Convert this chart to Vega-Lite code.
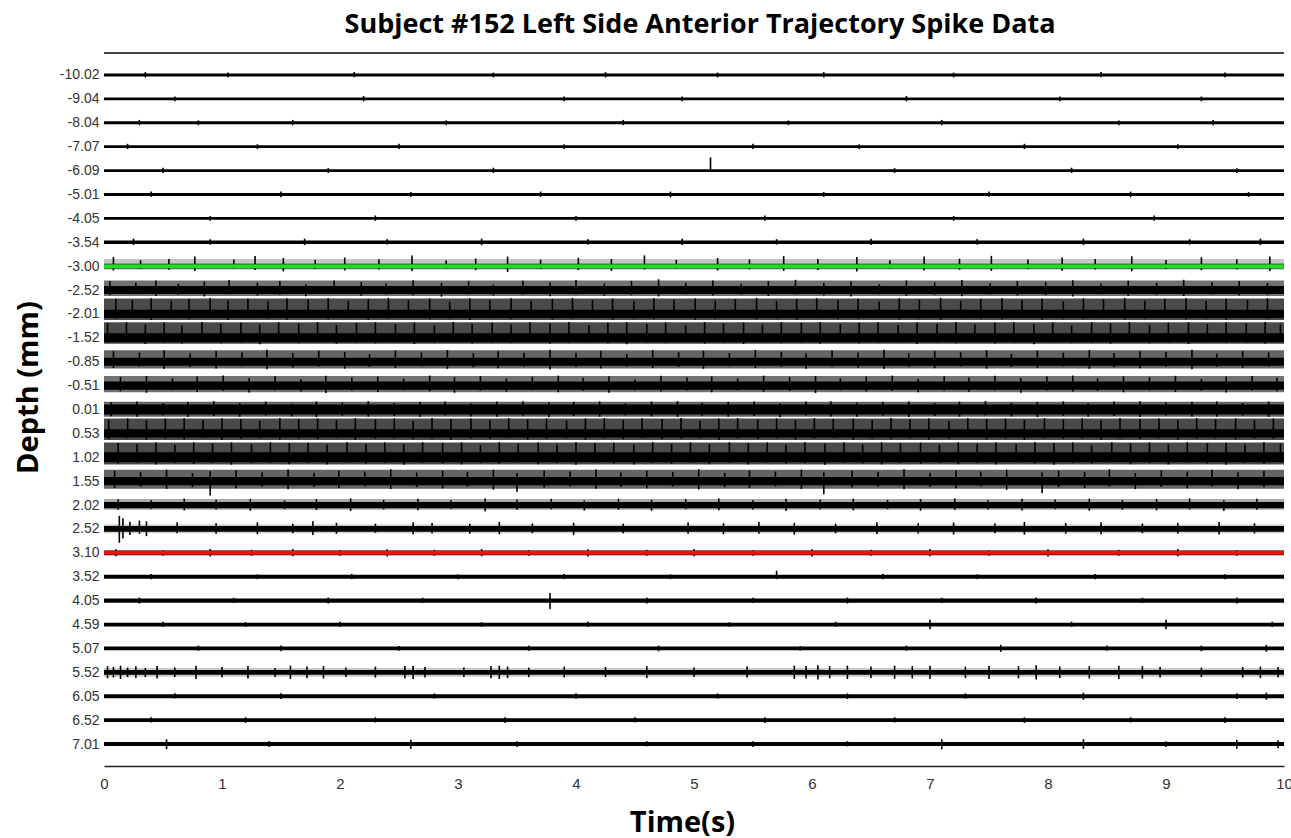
{
"$schema": "https://vega.github.io/schema/vega-lite/v6.json",
"width": 1180, "height": 713,
"autosize": {"type": "none"},
"padding": {"left": 104, "top": 53, "right": 7, "bottom": 72},
"background": "white",
"config": {"view": {"stroke": null}, "font": "Liberation Sans"},
"title": {"text": "Subject #152 Left Side Anterior Trajectory Spike Data", "font": "Open Sans", "fontSize": 27, "fontWeight": "bold", "color": "#000", "anchor": "middle", "frame": "group", "baseline": "alphabetic", "offset": 20, "dx": 6, "dy": 28},
"datasets": {
"tracks": [
{"k":0,"d":"-10.02","t0":0,"t1":10,"lo":-0.06,"hi":0.06},{"k":1,"d":"-9.04","t0":0,"t1":10,"lo":0.94,"hi":1.06},{"k":2,"d":"-8.04","t0":0,"t1":10,"lo":1.94,"hi":2.06},{"k":3,"d":"-7.07","t0":0,"t1":10,"lo":2.94,"hi":3.06},{"k":4,"d":"-6.09","t0":0,"t1":10,"lo":3.94,"hi":4.06},{"k":5,"d":"-5.01","t0":0,"t1":10,"lo":4.94,"hi":5.06},{"k":6,"d":"-4.05","t0":0,"t1":10,"lo":5.94,"hi":6.06},{"k":7,"d":"-3.54","t0":0,"t1":10,"lo":6.93,"hi":7.07},{"k":8,"d":"-3.00","t0":0,"t1":10,"lo":7.9,"hi":8.1},{"k":9,"d":"-2.52","t0":0,"t1":10,"lo":8.83,"hi":9.17},{"k":10,"d":"-2.01","t0":0,"t1":10,"lo":9.83,"hi":10.17},{"k":11,"d":"-1.52","t0":0,"t1":10,"lo":10.81,"hi":11.19},{"k":12,"d":"-0.85","t0":0,"t1":10,"lo":11.83,"hi":12.17},{"k":13,"d":"-0.51","t0":0,"t1":10,"lo":12.83,"hi":13.17},{"k":14,"d":"0.01","t0":0,"t1":10,"lo":13.79,"hi":14.21},{"k":15,"d":"0.53","t0":0,"t1":10,"lo":14.83,"hi":15.17},{"k":16,"d":"1.02","t0":0,"t1":10,"lo":15.79,"hi":16.21},{"k":17,"d":"1.55","t0":0,"t1":10,"lo":16.83,"hi":17.17},{"k":18,"d":"2.02","t0":0,"t1":10,"lo":17.87,"hi":18.13},{"k":19,"d":"2.52","t0":0,"t1":10,"lo":18.88,"hi":19.12},{"k":20,"d":"3.10","t0":0,"t1":10,"lo":19.9,"hi":20.1},{"k":21,"d":"3.52","t0":0,"t1":10,"lo":20.92,"hi":21.08},{"k":22,"d":"4.05","t0":0,"t1":10,"lo":21.91,"hi":22.09},{"k":23,"d":"4.59","t0":0,"t1":10,"lo":22.92,"hi":23.08},{"k":24,"d":"5.07","t0":0,"t1":10,"lo":23.92,"hi":24.08},{"k":25,"d":"5.52","t0":0,"t1":10,"lo":24.9,"hi":25.1},{"k":26,"d":"6.05","t0":0,"t1":10,"lo":25.92,"hi":26.08},{"k":27,"d":"6.52","t0":0,"t1":10,"lo":26.92,"hi":27.08},{"k":28,"d":"7.01","t0":0,"t1":10,"lo":27.92,"hi":28.08}
],
"env": [
{"k":8,"t0":0,"t1":10,"lo":7.7,"hi":8.15,"lvl":15},{"k":9,"t0":0,"t1":10,"lo":8.6,"hi":9.25,"lvl":38},{"k":10,"t0":0,"t1":10,"lo":9.35,"hi":10.25,"lvl":50},{"k":11,"t0":0,"t1":10,"lo":10.35,"hi":11.25,"lvl":50},{"k":12,"t0":0,"t1":10,"lo":11.52,"hi":12.28,"lvl":42},{"k":13,"t0":0,"t1":10,"lo":12.6,"hi":13.28,"lvl":38},{"k":14,"t0":0,"t1":10,"lo":13.68,"hi":14.3,"lvl":42},{"k":15,"t0":0,"t1":10,"lo":14.38,"hi":15.28,"lvl":50},{"k":16,"t0":0,"t1":10,"lo":15.38,"hi":16.3,"lvl":50},{"k":17,"t0":0,"t1":10,"lo":16.52,"hi":17.32,"lvl":42},{"k":18,"t0":0,"t1":10,"lo":17.75,"hi":18.2,"lvl":22},{"k":19,"t0":0,"t1":10,"lo":18.8,"hi":19.18,"lvl":12},{"k":25,"t0":0,"t1":10,"lo":24.82,"hi":25.18,"lvl":14}
],
"markers": [{"k":8,"m":"entry"},{"k":20,"m":"exit"}],
"edges": [{"k":-0.92}],
"spikes": [
{"t":0.35,"a":-0.12,"b":0.1},{"t":1.05,"a":-0.1,"b":0.1},{"t":2.12,"a":-0.12,"b":0.1},{"t":3.3,"a":-0.1,"b":0.1},{"t":4.25,"a":-0.12,"b":0.1},{"t":5.2,"a":-0.1,"b":0.1},{"t":6.1,"a":-0.12,"b":0.1},{"t":7.2,"a":-0.1,"b":0.1},{"t":8.45,"a":-0.12,"b":0.1},{"t":9.5,"a":-0.1,"b":0.1},
{"t":0.6,"a":0.9,"b":1.1},{"t":2.2,"a":0.88,"b":1.1},{"t":3.9,"a":0.9,"b":1.1},{"t":4.9,"a":0.9,"b":1.1},{"t":6.8,"a":0.88,"b":1.1},{"t":8.1,"a":0.9,"b":1.1},{"t":9.3,"a":0.9,"b":1.1},
{"t":0.3,"a":1.88,"b":2.1},{"t":0.8,"a":1.9,"b":2.1},{"t":1.6,"a":1.88,"b":2.1},{"t":2.9,"a":1.9,"b":2.1},{"t":4.4,"a":1.88,"b":2.1},{"t":5.8,"a":1.9,"b":2.1},{"t":7.1,"a":1.88,"b":2.1},{"t":8.6,"a":1.9,"b":2.1},{"t":9.4,"a":1.88,"b":2.1},
{"t":0.2,"a":2.88,"b":3.1},{"t":1.3,"a":2.9,"b":3.1},{"t":2.5,"a":2.88,"b":3.1},{"t":3.9,"a":2.9,"b":3.1},{"t":5.5,"a":2.88,"b":3.1},{"t":6.4,"a":2.9,"b":3.1},{"t":7.8,"a":2.88,"b":3.1},{"t":9.1,"a":2.9,"b":3.1},
{"t":0.5,"a":3.88,"b":4.1},{"t":1.9,"a":3.9,"b":4.1},{"t":3.3,"a":3.88,"b":4.1},{"t":5.14,"a":3.45,"b":4.06},{"t":6.7,"a":3.9,"b":4.1},{"t":8.2,"a":3.88,"b":4.1},{"t":9.6,"a":3.9,"b":4.1},
{"t":0.4,"a":4.88,"b":5.1},{"t":1.5,"a":4.88,"b":5.12},{"t":2.6,"a":4.9,"b":5.1},{"t":3.7,"a":4.88,"b":5.1},{"t":4.8,"a":4.88,"b":5.12},{"t":6.1,"a":4.9,"b":5.1},{"t":7.5,"a":4.88,"b":5.1},{"t":8.7,"a":4.88,"b":5.12},{"t":9.7,"a":4.9,"b":5.1},
{"t":0.9,"a":5.9,"b":6.1},{"t":2.3,"a":5.88,"b":6.1},{"t":4.0,"a":5.9,"b":6.1},{"t":5.6,"a":5.88,"b":6.1},{"t":7.2,"a":5.9,"b":6.1},{"t":8.9,"a":5.88,"b":6.1},
{"t":0.25,"a":6.85,"b":7.12},{"t":0.9,"a":6.87,"b":7.1},{"t":1.7,"a":6.85,"b":7.12},{"t":2.4,"a":6.87,"b":7.1},{"t":3.2,"a":6.85,"b":7.12},{"t":4.1,"a":6.87,"b":7.1},{"t":4.9,"a":6.85,"b":7.12},{"t":5.7,"a":6.87,"b":7.1},{"t":6.5,"a":6.85,"b":7.12},{"t":7.4,"a":6.87,"b":7.1},{"t":8.3,"a":6.85,"b":7.12},{"t":9.2,"a":6.87,"b":7.1},{"t":9.8,"a":6.85,"b":7.12},
{"t":0.08,"a":7.62,"b":8.18},{"t":0.31,"a":7.75,"b":8.12},{"t":0.55,"a":7.7,"b":8.15},{"t":0.77,"a":7.6,"b":8.2},{"t":1.1,"a":7.72,"b":8.1},{"t":1.28,"a":7.58,"b":8.16},{"t":1.52,"a":7.66,"b":8.22},{"t":1.79,"a":7.74,"b":8.12},{"t":2.04,"a":7.64,"b":8.18},{"t":2.33,"a":7.71,"b":8.14},{"t":2.61,"a":7.56,"b":8.2},{"t":2.9,"a":7.76,"b":8.1},{"t":3.15,"a":7.68,"b":8.17},{"t":3.42,"a":7.6,"b":8.24},{"t":3.7,"a":7.73,"b":8.12},{"t":4.02,"a":7.65,"b":8.16},{"t":4.3,"a":7.7,"b":8.2},{"t":4.58,"a":7.55,"b":8.14},{"t":4.85,"a":7.74,"b":8.1},{"t":5.2,"a":7.66,"b":8.18},{"t":5.47,"a":7.72,"b":8.13},{"t":5.76,"a":7.58,"b":8.2},{"t":6.05,"a":7.7,"b":8.16},{"t":6.38,"a":7.62,"b":8.22},{"t":6.66,"a":7.75,"b":8.11},{"t":6.95,"a":7.6,"b":8.18},{"t":7.25,"a":7.69,"b":8.15},{"t":7.52,"a":7.57,"b":8.2},{"t":7.83,"a":7.72,"b":8.12},{"t":8.12,"a":7.64,"b":8.19},{"t":8.4,"a":7.7,"b":8.14},{"t":8.71,"a":7.59,"b":8.21},{"t":9.0,"a":7.74,"b":8.12},{"t":9.3,"a":7.63,"b":8.17},{"t":9.6,"a":7.71,"b":8.13},{"t":9.88,"a":7.6,"b":8.2},
{"t":0.05,"a":8.62,"b":9.22},{"t":0.27,"a":8.7,"b":9.18},{"t":0.44,"a":8.6,"b":9.25},{"t":0.63,"a":8.74,"b":9.2},{"t":0.85,"a":8.64,"b":9.27},{"t":1.06,"a":8.58,"b":9.18},{"t":1.3,"a":8.69,"b":9.23},{"t":1.49,"a":8.62,"b":9.2},{"t":1.71,"a":8.76,"b":9.26},{"t":1.95,"a":8.6,"b":9.17},{"t":2.18,"a":8.67,"b":9.24},{"t":2.39,"a":8.73,"b":9.19},{"t":2.62,"a":8.59,"b":9.22},{"t":2.86,"a":8.7,"b":9.28},{"t":3.09,"a":8.63,"b":9.18},{"t":3.3,"a":8.77,"b":9.23},{"t":3.55,"a":8.61,"b":9.2},{"t":3.78,"a":8.68,"b":9.26},{"t":4.0,"a":8.58,"b":9.19},{"t":4.24,"a":8.72,"b":9.24},{"t":4.47,"a":8.62,"b":9.21},{"t":4.7,"a":8.55,"b":9.27},{"t":4.93,"a":8.69,"b":9.18},{"t":5.16,"a":8.6,"b":9.23},{"t":5.4,"a":8.74,"b":9.2},{"t":5.63,"a":8.63,"b":9.25},{"t":5.86,"a":8.57,"b":9.19},{"t":6.1,"a":8.7,"b":9.22},{"t":6.33,"a":8.64,"b":9.27},{"t":6.57,"a":8.76,"b":9.18},{"t":6.8,"a":8.6,"b":9.24},{"t":7.04,"a":8.68,"b":9.2},{"t":7.27,"a":8.58,"b":9.26},{"t":7.51,"a":8.72,"b":9.19},{"t":7.74,"a":8.62,"b":9.23},{"t":7.98,"a":8.66,"b":9.21},{"t":8.21,"a":8.59,"b":9.27},{"t":8.45,"a":8.73,"b":9.18},{"t":8.68,"a":8.61,"b":9.24},{"t":8.92,"a":8.7,"b":9.2},{"t":9.15,"a":8.57,"b":9.25},{"t":9.39,"a":8.67,"b":9.19},{"t":9.62,"a":8.62,"b":9.23},{"t":9.86,"a":8.71,"b":9.2},
{"t":0.1,"a":9.36,"b":10.2},{"t":0.24,"a":9.42,"b":10.16},{"t":0.4,"a":9.34,"b":10.24},{"t":0.57,"a":9.45,"b":10.18},{"t":0.72,"a":9.38,"b":10.22},{"t":0.9,"a":9.33,"b":10.17},{"t":1.05,"a":9.44,"b":10.25},{"t":1.22,"a":9.37,"b":10.19},{"t":1.39,"a":9.47,"b":10.2},{"t":1.55,"a":9.35,"b":10.23},{"t":1.73,"a":9.4,"b":10.16},{"t":1.9,"a":9.34,"b":10.21},{"t":2.07,"a":9.46,"b":10.18},{"t":2.24,"a":9.38,"b":10.24},{"t":2.41,"a":9.33,"b":10.2},{"t":2.58,"a":9.43,"b":10.17},{"t":2.76,"a":9.36,"b":10.22},{"t":2.93,"a":9.48,"b":10.19},{"t":3.1,"a":9.35,"b":10.25},{"t":3.27,"a":9.41,"b":10.18},{"t":3.45,"a":9.34,"b":10.21},{"t":3.62,"a":9.45,"b":10.16},{"t":3.8,"a":9.37,"b":10.23},{"t":3.97,"a":9.33,"b":10.2},{"t":4.14,"a":9.42,"b":10.18},{"t":4.31,"a":9.36,"b":10.24},{"t":4.49,"a":9.47,"b":10.19},{"t":4.66,"a":9.34,"b":10.21},{"t":4.83,"a":9.4,"b":10.17},{"t":5.01,"a":9.35,"b":10.23},{"t":5.18,"a":9.44,"b":10.2},{"t":5.35,"a":9.38,"b":10.16},{"t":5.53,"a":9.33,"b":10.22},{"t":5.7,"a":9.46,"b":10.19},{"t":5.87,"a":9.37,"b":10.24},{"t":6.04,"a":9.34,"b":10.18},{"t":6.22,"a":9.43,"b":10.21},{"t":6.39,"a":9.36,"b":10.2},{"t":6.57,"a":9.48,"b":10.17},{"t":6.74,"a":9.35,"b":10.23},{"t":6.91,"a":9.4,"b":10.19},{"t":7.09,"a":9.33,"b":10.25},{"t":7.26,"a":9.45,"b":10.18},{"t":7.43,"a":9.37,"b":10.2},{"t":7.61,"a":9.34,"b":10.22},{"t":7.78,"a":9.42,"b":10.17},{"t":7.95,"a":9.36,"b":10.24},{"t":8.13,"a":9.47,"b":10.19},{"t":8.3,"a":9.35,"b":10.21},{"t":8.47,"a":9.39,"b":10.18},{"t":8.65,"a":9.33,"b":10.23},{"t":8.82,"a":9.44,"b":10.2},{"t":8.99,"a":9.37,"b":10.16},{"t":9.17,"a":9.34,"b":10.22},{"t":9.34,"a":9.46,"b":10.19},{"t":9.51,"a":9.36,"b":10.24},{"t":9.69,"a":9.41,"b":10.18},{"t":9.86,"a":9.34,"b":10.21},
{"t":0.03,"a":10.38,"b":11.22},{"t":0.19,"a":10.35,"b":11.18},{"t":0.35,"a":10.44,"b":11.26},{"t":0.51,"a":10.36,"b":11.2},{"t":0.66,"a":10.47,"b":11.24},{"t":0.83,"a":10.34,"b":11.17},{"t":0.99,"a":10.41,"b":11.23},{"t":1.16,"a":10.37,"b":11.2},{"t":1.32,"a":10.45,"b":11.27},{"t":1.48,"a":10.35,"b":11.19},{"t":1.65,"a":10.4,"b":11.22},{"t":1.81,"a":10.34,"b":11.18},{"t":1.97,"a":10.46,"b":11.25},{"t":2.14,"a":10.38,"b":11.2},{"t":2.3,"a":10.35,"b":11.23},{"t":2.47,"a":10.43,"b":11.19},{"t":2.63,"a":10.36,"b":11.26},{"t":2.8,"a":10.48,"b":11.21},{"t":2.96,"a":10.34,"b":11.18},{"t":3.12,"a":10.41,"b":11.24},{"t":3.29,"a":10.37,"b":11.2},{"t":3.45,"a":10.44,"b":11.22},{"t":3.61,"a":10.35,"b":11.17},{"t":3.78,"a":10.39,"b":11.25},{"t":3.94,"a":10.34,"b":11.21},{"t":4.11,"a":10.46,"b":11.19},{"t":4.27,"a":10.37,"b":11.23},{"t":4.43,"a":10.35,"b":11.27},{"t":4.6,"a":10.42,"b":11.2},{"t":4.76,"a":10.36,"b":11.22},{"t":4.93,"a":10.47,"b":11.18},{"t":5.09,"a":10.34,"b":11.24},{"t":5.25,"a":10.4,"b":11.2},{"t":5.42,"a":10.36,"b":11.26},{"t":5.58,"a":10.45,"b":11.19},{"t":5.74,"a":10.35,"b":11.22},{"t":5.91,"a":10.38,"b":11.2},{"t":6.07,"a":10.34,"b":11.25},{"t":6.24,"a":10.43,"b":11.18},{"t":6.4,"a":10.37,"b":11.23},{"t":6.56,"a":10.35,"b":11.21},{"t":6.73,"a":10.46,"b":11.19},{"t":6.89,"a":10.36,"b":11.26},{"t":7.06,"a":10.41,"b":11.2},{"t":7.22,"a":10.34,"b":11.23},{"t":7.38,"a":10.44,"b":11.18},{"t":7.55,"a":10.37,"b":11.24},{"t":7.71,"a":10.35,"b":11.21},{"t":7.88,"a":10.42,"b":11.27},{"t":8.04,"a":10.36,"b":11.19},{"t":8.2,"a":10.48,"b":11.22},{"t":8.37,"a":10.35,"b":11.2},{"t":8.53,"a":10.39,"b":11.25},{"t":8.69,"a":10.34,"b":11.18},{"t":8.86,"a":10.45,"b":11.23},{"t":9.02,"a":10.37,"b":11.2},{"t":9.19,"a":10.35,"b":11.26},{"t":9.35,"a":10.43,"b":11.19},{"t":9.51,"a":10.36,"b":11.22},{"t":9.68,"a":10.4,"b":11.2},{"t":9.84,"a":10.34,"b":11.24},{"t":9.97,"a":10.44,"b":11.19},
{"t":0.08,"a":11.56,"b":12.26},{"t":0.3,"a":11.62,"b":12.2},{"t":0.51,"a":11.52,"b":12.3},{"t":0.73,"a":11.66,"b":12.22},{"t":0.95,"a":11.55,"b":12.28},{"t":1.17,"a":11.6,"b":12.19},{"t":1.38,"a":11.5,"b":12.32},{"t":1.6,"a":11.64,"b":12.24},{"t":1.82,"a":11.54,"b":12.2},{"t":2.04,"a":11.59,"b":12.29},{"t":2.25,"a":11.68,"b":12.21},{"t":2.47,"a":11.53,"b":12.26},{"t":2.69,"a":11.61,"b":12.19},{"t":2.91,"a":11.51,"b":12.3},{"t":3.13,"a":11.65,"b":12.23},{"t":3.34,"a":11.56,"b":12.27},{"t":3.56,"a":11.62,"b":12.2},{"t":3.78,"a":11.5,"b":12.33},{"t":4.0,"a":11.63,"b":12.22},{"t":4.21,"a":11.55,"b":12.28},{"t":4.43,"a":11.67,"b":12.2},{"t":4.65,"a":11.52,"b":12.26},{"t":4.87,"a":11.6,"b":12.21},{"t":5.08,"a":11.54,"b":12.3},{"t":5.3,"a":11.64,"b":12.19},{"t":5.52,"a":11.51,"b":12.27},{"t":5.74,"a":11.58,"b":12.22},{"t":5.95,"a":11.66,"b":12.29},{"t":6.17,"a":11.53,"b":12.2},{"t":6.39,"a":11.61,"b":12.25},{"t":6.61,"a":11.5,"b":12.31},{"t":6.82,"a":11.65,"b":12.21},{"t":7.04,"a":11.55,"b":12.27},{"t":7.26,"a":11.6,"b":12.2},{"t":7.48,"a":11.52,"b":12.29},{"t":7.69,"a":11.67,"b":12.22},{"t":7.91,"a":11.54,"b":12.26},{"t":8.13,"a":11.62,"b":12.19},{"t":8.35,"a":11.51,"b":12.3},{"t":8.56,"a":11.64,"b":12.23},{"t":8.78,"a":11.56,"b":12.27},{"t":9.0,"a":11.59,"b":12.2},{"t":9.22,"a":11.5,"b":12.32},{"t":9.43,"a":11.66,"b":12.21},{"t":9.65,"a":11.55,"b":12.26},{"t":9.87,"a":11.61,"b":12.2},
{"t":0.14,"a":12.64,"b":13.24},{"t":0.36,"a":12.6,"b":13.3},{"t":0.58,"a":12.7,"b":13.2},{"t":0.79,"a":12.62,"b":13.27},{"t":1.01,"a":12.58,"b":13.22},{"t":1.23,"a":12.68,"b":13.29},{"t":1.45,"a":12.61,"b":13.2},{"t":1.67,"a":12.73,"b":13.25},{"t":1.88,"a":12.59,"b":13.31},{"t":2.1,"a":12.66,"b":13.21},{"t":2.32,"a":12.62,"b":13.27},{"t":2.54,"a":12.71,"b":13.2},{"t":2.76,"a":12.58,"b":13.24},{"t":2.97,"a":12.65,"b":13.3},{"t":3.19,"a":12.6,"b":13.21},{"t":3.41,"a":12.7,"b":13.26},{"t":3.63,"a":12.63,"b":13.19},{"t":3.85,"a":12.58,"b":13.28},{"t":4.06,"a":12.67,"b":13.22},{"t":4.28,"a":12.61,"b":13.3},{"t":4.5,"a":12.74,"b":13.2},{"t":4.72,"a":12.59,"b":13.25},{"t":4.94,"a":12.66,"b":13.21},{"t":5.15,"a":12.62,"b":13.28},{"t":5.37,"a":12.7,"b":13.2},{"t":5.59,"a":12.58,"b":13.26},{"t":5.81,"a":12.64,"b":13.22},{"t":6.03,"a":12.6,"b":13.31},{"t":6.24,"a":12.69,"b":13.2},{"t":6.46,"a":12.62,"b":13.25},{"t":6.68,"a":12.58,"b":13.22},{"t":6.9,"a":12.72,"b":13.28},{"t":7.12,"a":12.61,"b":13.2},{"t":7.33,"a":12.66,"b":13.26},{"t":7.55,"a":12.59,"b":13.21},{"t":7.77,"a":12.68,"b":13.3},{"t":7.99,"a":12.62,"b":13.2},{"t":8.21,"a":12.58,"b":13.25},{"t":8.42,"a":12.7,"b":13.22},{"t":8.64,"a":12.61,"b":13.28},{"t":8.86,"a":12.65,"b":13.2},{"t":9.08,"a":12.59,"b":13.26},{"t":9.3,"a":12.73,"b":13.21},{"t":9.51,"a":12.62,"b":13.29},{"t":9.73,"a":12.6,"b":13.2},{"t":9.94,"a":12.67,"b":13.24},
{"t":0.06,"a":13.7,"b":14.28},{"t":0.28,"a":13.66,"b":14.3},{"t":0.5,"a":13.74,"b":14.25},{"t":0.71,"a":13.68,"b":14.31},{"t":0.93,"a":13.65,"b":14.27},{"t":1.15,"a":13.72,"b":14.3},{"t":1.37,"a":13.67,"b":14.25},{"t":1.59,"a":13.76,"b":14.29},{"t":1.8,"a":13.66,"b":14.32},{"t":2.02,"a":13.7,"b":14.26},{"t":2.24,"a":13.65,"b":14.3},{"t":2.46,"a":13.73,"b":14.27},{"t":2.68,"a":13.68,"b":14.31},{"t":2.89,"a":13.66,"b":14.25},{"t":3.11,"a":13.75,"b":14.29},{"t":3.33,"a":13.67,"b":14.3},{"t":3.55,"a":13.65,"b":14.26},{"t":3.77,"a":13.71,"b":14.32},{"t":3.98,"a":13.68,"b":14.27},{"t":4.2,"a":13.66,"b":14.3},{"t":4.42,"a":13.74,"b":14.25},{"t":4.64,"a":13.67,"b":14.29},{"t":4.86,"a":13.65,"b":14.31},{"t":5.07,"a":13.72,"b":14.26},{"t":5.29,"a":13.68,"b":14.3},{"t":5.51,"a":13.66,"b":14.27},{"t":5.73,"a":13.75,"b":14.32},{"t":5.95,"a":13.67,"b":14.25},{"t":6.16,"a":13.65,"b":14.29},{"t":6.38,"a":13.71,"b":14.3},{"t":6.6,"a":13.68,"b":14.26},{"t":6.82,"a":13.66,"b":14.31},{"t":7.04,"a":13.73,"b":14.27},{"t":7.25,"a":13.67,"b":14.3},{"t":7.47,"a":13.65,"b":14.25},{"t":7.69,"a":13.72,"b":14.29},{"t":7.91,"a":13.68,"b":14.32},{"t":8.13,"a":13.66,"b":14.26},{"t":8.34,"a":13.74,"b":14.3},{"t":8.56,"a":13.67,"b":14.27},{"t":8.78,"a":13.65,"b":14.31},{"t":9.0,"a":13.7,"b":14.25},{"t":9.22,"a":13.68,"b":14.29},{"t":9.43,"a":13.66,"b":14.3},{"t":9.65,"a":13.73,"b":14.26},{"t":9.87,"a":13.67,"b":14.31},
{"t":0.04,"a":14.42,"b":15.24},{"t":0.2,"a":14.37,"b":15.2},{"t":0.36,"a":14.46,"b":15.27},{"t":0.52,"a":14.38,"b":15.21},{"t":0.68,"a":14.36,"b":15.25},{"t":0.84,"a":14.44,"b":15.19},{"t":1.0,"a":14.37,"b":15.28},{"t":1.16,"a":14.4,"b":15.22},{"t":1.32,"a":14.47,"b":15.2},{"t":1.49,"a":14.36,"b":15.26},{"t":1.65,"a":14.41,"b":15.21},{"t":1.81,"a":14.38,"b":15.24},{"t":1.97,"a":14.45,"b":15.19},{"t":2.13,"a":14.36,"b":15.27},{"t":2.3,"a":14.42,"b":15.22},{"t":2.46,"a":14.37,"b":15.2},{"t":2.62,"a":14.48,"b":15.25},{"t":2.78,"a":14.36,"b":15.21},{"t":2.94,"a":14.4,"b":15.28},{"t":3.11,"a":14.38,"b":15.2},{"t":3.27,"a":14.44,"b":15.23},{"t":3.43,"a":14.36,"b":15.19},{"t":3.59,"a":14.41,"b":15.26},{"t":3.75,"a":14.37,"b":15.22},{"t":3.92,"a":14.46,"b":15.2},{"t":4.08,"a":14.38,"b":15.27},{"t":4.24,"a":14.36,"b":15.21},{"t":4.4,"a":14.43,"b":15.24},{"t":4.56,"a":14.37,"b":15.19},{"t":4.73,"a":14.4,"b":15.25},{"t":4.89,"a":14.36,"b":15.22},{"t":5.05,"a":14.47,"b":15.2},{"t":5.21,"a":14.38,"b":15.28},{"t":5.37,"a":14.36,"b":15.21},{"t":5.54,"a":14.42,"b":15.24},{"t":5.7,"a":14.37,"b":15.2},{"t":5.86,"a":14.45,"b":15.26},{"t":6.02,"a":14.36,"b":15.22},{"t":6.18,"a":14.4,"b":15.19},{"t":6.35,"a":14.38,"b":15.27},{"t":6.51,"a":14.44,"b":15.21},{"t":6.67,"a":14.36,"b":15.24},{"t":6.83,"a":14.41,"b":15.2},{"t":6.99,"a":14.37,"b":15.26},{"t":7.16,"a":14.48,"b":15.22},{"t":7.32,"a":14.36,"b":15.19},{"t":7.48,"a":14.4,"b":15.25},{"t":7.64,"a":14.38,"b":15.21},{"t":7.8,"a":14.43,"b":15.28},{"t":7.97,"a":14.36,"b":15.2},{"t":8.13,"a":14.41,"b":15.23},{"t":8.29,"a":14.37,"b":15.21},{"t":8.45,"a":14.46,"b":15.26},{"t":8.61,"a":14.36,"b":15.2},{"t":8.78,"a":14.4,"b":15.24},{"t":8.94,"a":14.38,"b":15.19},{"t":9.1,"a":14.44,"b":15.27},{"t":9.26,"a":14.36,"b":15.22},{"t":9.42,"a":14.41,"b":15.2},{"t":9.59,"a":14.37,"b":15.25},{"t":9.75,"a":14.45,"b":15.21},{"t":9.91,"a":14.38,"b":15.23},
{"t":0.12,"a":15.4,"b":16.26},{"t":0.28,"a":15.45,"b":16.22},{"t":0.44,"a":15.38,"b":16.3},{"t":0.6,"a":15.48,"b":16.24},{"t":0.76,"a":15.37,"b":16.28},{"t":0.92,"a":15.42,"b":16.22},{"t":1.08,"a":15.38,"b":16.31},{"t":1.25,"a":15.46,"b":16.25},{"t":1.41,"a":15.37,"b":16.22},{"t":1.57,"a":15.41,"b":16.29},{"t":1.73,"a":15.39,"b":16.24},{"t":1.89,"a":15.47,"b":16.3},{"t":2.06,"a":15.37,"b":16.22},{"t":2.22,"a":15.43,"b":16.27},{"t":2.38,"a":15.38,"b":16.24},{"t":2.54,"a":15.45,"b":16.31},{"t":2.7,"a":15.37,"b":16.22},{"t":2.87,"a":15.4,"b":16.26},{"t":3.03,"a":15.38,"b":16.3},{"t":3.19,"a":15.49,"b":16.23},{"t":3.35,"a":15.37,"b":16.27},{"t":3.51,"a":15.42,"b":16.22},{"t":3.68,"a":15.38,"b":16.29},{"t":3.84,"a":15.46,"b":16.24},{"t":4.0,"a":15.37,"b":16.31},{"t":4.16,"a":15.41,"b":16.22},{"t":4.32,"a":15.39,"b":16.26},{"t":4.49,"a":15.47,"b":16.3},{"t":4.65,"a":15.37,"b":16.23},{"t":4.81,"a":15.43,"b":16.27},{"t":4.97,"a":15.38,"b":16.22},{"t":5.13,"a":15.45,"b":16.29},{"t":5.3,"a":15.37,"b":16.24},{"t":5.46,"a":15.4,"b":16.3},{"t":5.62,"a":15.38,"b":16.22},{"t":5.78,"a":15.48,"b":16.27},{"t":5.94,"a":15.37,"b":16.24},{"t":6.11,"a":15.42,"b":16.31},{"t":6.27,"a":15.38,"b":16.22},{"t":6.43,"a":15.46,"b":16.26},{"t":6.59,"a":15.37,"b":16.3},{"t":6.75,"a":15.41,"b":16.23},{"t":6.92,"a":15.39,"b":16.27},{"t":7.08,"a":15.47,"b":16.22},{"t":7.24,"a":15.37,"b":16.29},{"t":7.4,"a":15.43,"b":16.24},{"t":7.56,"a":15.38,"b":16.3},{"t":7.73,"a":15.45,"b":16.22},{"t":7.89,"a":15.37,"b":16.26},{"t":8.05,"a":15.4,"b":16.31},{"t":8.21,"a":15.38,"b":16.23},{"t":8.37,"a":15.49,"b":16.27},{"t":8.54,"a":15.37,"b":16.22},{"t":8.7,"a":15.42,"b":16.29},{"t":8.86,"a":15.38,"b":16.24},{"t":9.02,"a":15.46,"b":16.3},{"t":9.18,"a":15.37,"b":16.22},{"t":9.35,"a":15.41,"b":16.26},{"t":9.51,"a":15.39,"b":16.31},{"t":9.67,"a":15.47,"b":16.23},{"t":9.83,"a":15.37,"b":16.27},{"t":9.97,"a":15.43,"b":16.22},
{"t":0.09,"a":16.56,"b":17.28},{"t":0.31,"a":16.62,"b":17.22},{"t":0.53,"a":16.52,"b":17.32},{"t":0.75,"a":16.66,"b":17.25},{"t":0.9,"a":16.58,"b":17.6},{"t":1.12,"a":16.54,"b":17.3},{"t":1.34,"a":16.63,"b":17.22},{"t":1.56,"a":16.51,"b":17.34},{"t":1.78,"a":16.65,"b":17.24},{"t":1.99,"a":16.55,"b":17.29},{"t":2.21,"a":16.6,"b":17.21},{"t":2.43,"a":16.5,"b":17.33},{"t":2.65,"a":16.64,"b":17.25},{"t":2.87,"a":16.56,"b":17.3},{"t":3.08,"a":16.61,"b":17.22},{"t":3.3,"a":16.52,"b":17.36},{"t":3.5,"a":16.66,"b":17.45},{"t":3.73,"a":16.55,"b":17.26},{"t":3.95,"a":16.6,"b":17.21},{"t":4.17,"a":16.51,"b":17.32},{"t":4.38,"a":16.64,"b":17.24},{"t":4.6,"a":16.56,"b":17.3},{"t":4.82,"a":16.62,"b":17.22},{"t":5.04,"a":16.5,"b":17.35},{"t":5.26,"a":16.65,"b":17.25},{"t":5.47,"a":16.55,"b":17.28},{"t":5.69,"a":16.6,"b":17.21},{"t":5.91,"a":16.52,"b":17.33},{"t":6.1,"a":16.63,"b":17.55},{"t":6.34,"a":16.56,"b":17.26},{"t":6.56,"a":16.61,"b":17.22},{"t":6.78,"a":16.5,"b":17.34},{"t":7.0,"a":16.65,"b":17.24},{"t":7.22,"a":16.55,"b":17.3},{"t":7.43,"a":16.6,"b":17.21},{"t":7.65,"a":16.52,"b":17.36},{"t":7.95,"a":16.64,"b":17.5},{"t":8.09,"a":16.56,"b":17.25},{"t":8.31,"a":16.61,"b":17.29},{"t":8.52,"a":16.5,"b":17.22},{"t":8.74,"a":16.66,"b":17.33},{"t":8.96,"a":16.55,"b":17.24},{"t":9.18,"a":16.6,"b":17.3},{"t":9.39,"a":16.52,"b":17.21},{"t":9.61,"a":16.63,"b":17.34},{"t":9.83,"a":16.56,"b":17.25},
{"t":0.12,"a":17.76,"b":18.2},{"t":0.4,"a":17.8,"b":18.16},{"t":0.68,"a":17.73,"b":18.22},{"t":0.95,"a":17.78,"b":18.18},{"t":1.24,"a":17.74,"b":18.24},{"t":1.53,"a":17.81,"b":18.17},{"t":1.8,"a":17.75,"b":18.21},{"t":2.09,"a":17.72,"b":18.25},{"t":2.37,"a":17.79,"b":18.18},{"t":2.66,"a":17.74,"b":18.22},{"t":2.94,"a":17.8,"b":18.16},{"t":3.23,"a":17.72,"b":18.26},{"t":3.5,"a":17.77,"b":18.2},{"t":3.79,"a":17.74,"b":18.17},{"t":4.07,"a":17.81,"b":18.23},{"t":4.36,"a":17.73,"b":18.19},{"t":4.64,"a":17.78,"b":18.24},{"t":4.93,"a":17.75,"b":18.17},{"t":5.21,"a":17.72,"b":18.22},{"t":5.5,"a":17.8,"b":18.19},{"t":5.78,"a":17.74,"b":18.25},{"t":6.07,"a":17.77,"b":18.18},{"t":6.35,"a":17.73,"b":18.22},{"t":6.64,"a":17.79,"b":18.17},{"t":6.92,"a":17.75,"b":18.24},{"t":7.21,"a":17.72,"b":18.2},{"t":7.49,"a":17.8,"b":18.18},{"t":7.78,"a":17.74,"b":18.23},{"t":8.06,"a":17.77,"b":18.17},{"t":8.35,"a":17.73,"b":18.24},{"t":8.63,"a":17.79,"b":18.19},{"t":8.92,"a":17.75,"b":18.22},{"t":9.2,"a":17.72,"b":18.18},{"t":9.49,"a":17.8,"b":18.25},{"t":9.77,"a":17.74,"b":18.2},
{"t":0.13,"a":18.45,"b":19.58},{"t":0.16,"a":18.55,"b":19.4},{"t":0.22,"a":18.7,"b":19.25},{"t":0.3,"a":18.65,"b":19.2},{"t":0.36,"a":18.68,"b":19.3},{"t":0.62,"a":18.72,"b":19.18},{"t":0.95,"a":18.76,"b":19.2},{"t":1.3,"a":18.72,"b":19.22},{"t":1.6,"a":18.78,"b":19.18},{"t":1.77,"a":18.68,"b":19.25},{"t":1.97,"a":18.74,"b":19.2},{"t":2.3,"a":18.78,"b":19.16},{"t":2.62,"a":18.72,"b":19.22},{"t":2.78,"a":18.75,"b":19.19},{"t":3.1,"a":18.78,"b":19.2},{"t":3.35,"a":18.7,"b":19.22},{"t":3.63,"a":18.77,"b":19.18},{"t":3.98,"a":18.74,"b":19.25},{"t":4.4,"a":18.78,"b":19.18},{"t":4.95,"a":18.73,"b":19.2},{"t":5.25,"a":18.76,"b":19.22},{"t":5.55,"a":18.7,"b":19.2},{"t":5.85,"a":18.74,"b":19.24},{"t":6.2,"a":18.78,"b":19.18},{"t":6.55,"a":18.72,"b":19.21},{"t":6.9,"a":18.76,"b":19.19},{"t":7.2,"a":18.73,"b":19.23},{"t":7.55,"a":18.77,"b":19.18},{"t":7.8,"a":18.7,"b":19.24},{"t":8.15,"a":18.75,"b":19.2},{"t":8.45,"a":18.72,"b":19.22},{"t":8.8,"a":18.77,"b":19.18},{"t":9.1,"a":18.74,"b":19.2},{"t":9.45,"a":18.7,"b":19.23},{"t":9.75,"a":18.76,"b":19.19},
{"t":0.1,"a":19.85,"b":20.14},{"t":0.5,"a":19.88,"b":20.12},{"t":0.9,"a":19.84,"b":20.15},{"t":1.25,"a":19.87,"b":20.12},{"t":1.6,"a":19.84,"b":20.14},{"t":2.0,"a":19.88,"b":20.12},{"t":2.4,"a":19.85,"b":20.15},{"t":2.8,"a":19.87,"b":20.12},{"t":3.2,"a":19.84,"b":20.14},{"t":3.6,"a":19.88,"b":20.12},{"t":4.1,"a":19.85,"b":20.15},{"t":4.6,"a":19.87,"b":20.12},{"t":5.0,"a":19.84,"b":20.14},{"t":5.5,"a":19.88,"b":20.12},{"t":6.0,"a":19.85,"b":20.15},{"t":6.5,"a":19.87,"b":20.12},{"t":7.0,"a":19.84,"b":20.14},{"t":7.5,"a":19.88,"b":20.12},{"t":8.0,"a":19.85,"b":20.15},{"t":8.6,"a":19.87,"b":20.12},{"t":9.1,"a":19.84,"b":20.14},{"t":9.6,"a":19.88,"b":20.12},
{"t":0.4,"a":20.88,"b":21.1},{"t":1.3,"a":20.9,"b":21.1},{"t":2.1,"a":20.88,"b":21.1},{"t":3.0,"a":20.9,"b":21.1},{"t":3.9,"a":20.88,"b":21.1},{"t":4.8,"a":20.9,"b":21.1},{"t":5.7,"a":20.75,"b":21.1},{"t":6.6,"a":20.88,"b":21.1},{"t":7.4,"a":20.9,"b":21.1},{"t":8.4,"a":20.88,"b":21.1},{"t":9.5,"a":20.9,"b":21.1},
{"t":0.3,"a":21.87,"b":22.12},{"t":1.1,"a":21.88,"b":22.1},{"t":1.9,"a":21.87,"b":22.12},{"t":2.7,"a":21.88,"b":22.1},{"t":3.78,"a":21.68,"b":22.35},{"t":4.6,"a":21.87,"b":22.12},{"t":5.5,"a":21.88,"b":22.1},{"t":6.3,"a":21.87,"b":22.12},{"t":7.1,"a":21.88,"b":22.1},{"t":7.9,"a":21.87,"b":22.12},{"t":8.8,"a":21.88,"b":22.1},{"t":9.6,"a":21.87,"b":22.12},
{"t":0.5,"a":22.88,"b":23.1},{"t":1.2,"a":22.9,"b":23.1},{"t":2.0,"a":22.88,"b":23.1},{"t":3.2,"a":22.9,"b":23.1},{"t":4.1,"a":22.88,"b":23.1},{"t":5.3,"a":22.9,"b":23.1},{"t":6.2,"a":22.88,"b":23.1},{"t":7.0,"a":22.8,"b":23.2},{"t":8.2,"a":22.88,"b":23.1},{"t":9.0,"a":22.8,"b":23.2},{"t":9.9,"a":22.88,"b":23.1},
{"t":0.8,"a":23.88,"b":24.1},{"t":1.5,"a":23.88,"b":24.12},{"t":2.5,"a":23.9,"b":24.1},{"t":3.6,"a":23.88,"b":24.1},{"t":4.7,"a":23.88,"b":24.12},{"t":5.9,"a":23.9,"b":24.1},{"t":6.8,"a":23.88,"b":24.1},{"t":7.6,"a":23.85,"b":24.14},{"t":8.5,"a":23.88,"b":24.1},{"t":9.3,"a":23.88,"b":24.12},{"t":9.85,"a":23.85,"b":24.14},
{"t":0.03,"a":24.74,"b":25.25},{"t":0.08,"a":24.78,"b":25.22},{"t":0.14,"a":24.72,"b":25.28},{"t":0.2,"a":24.8,"b":25.2},{"t":0.27,"a":24.75,"b":25.24},{"t":0.35,"a":24.82,"b":25.2},{"t":0.45,"a":24.74,"b":25.26},{"t":0.6,"a":24.8,"b":25.2},{"t":0.78,"a":24.72,"b":25.28},{"t":1.0,"a":24.78,"b":25.22},{"t":1.22,"a":24.74,"b":25.26},{"t":1.45,"a":24.82,"b":25.2},{"t":1.58,"a":24.72,"b":25.28},{"t":1.72,"a":24.76,"b":25.24},{"t":1.86,"a":24.74,"b":25.26},{"t":2.05,"a":24.8,"b":25.2},{"t":2.3,"a":24.76,"b":25.22},{"t":2.55,"a":24.74,"b":25.26},{"t":2.62,"a":24.72,"b":25.28},{"t":2.72,"a":24.78,"b":25.22},{"t":3.05,"a":24.8,"b":25.2},{"t":3.28,"a":24.74,"b":25.25},{"t":3.35,"a":24.72,"b":25.28},{"t":3.42,"a":24.76,"b":25.24},{"t":3.6,"a":24.8,"b":25.2},{"t":3.9,"a":24.76,"b":25.22},{"t":4.25,"a":24.78,"b":25.2},{"t":4.6,"a":24.74,"b":25.24},{"t":5.0,"a":24.8,"b":25.2},{"t":5.45,"a":24.76,"b":25.22},{"t":5.85,"a":24.72,"b":25.28},{"t":5.95,"a":24.74,"b":25.26},{"t":6.05,"a":24.7,"b":25.3},{"t":6.15,"a":24.74,"b":25.25},{"t":6.3,"a":24.72,"b":25.28},{"t":6.5,"a":24.76,"b":25.24},{"t":6.7,"a":24.72,"b":25.27},{"t":6.85,"a":24.74,"b":25.26},{"t":7.0,"a":24.72,"b":25.28},{"t":7.3,"a":24.76,"b":25.24},{"t":7.5,"a":24.72,"b":25.28},{"t":7.75,"a":24.74,"b":25.25},{"t":7.9,"a":24.7,"b":25.3},{"t":8.1,"a":24.76,"b":25.24},{"t":8.35,"a":24.74,"b":25.26},{"t":8.6,"a":24.72,"b":25.28},{"t":8.8,"a":24.74,"b":25.26},{"t":8.95,"a":24.78,"b":25.22},{"t":9.3,"a":24.8,"b":25.2},{"t":9.65,"a":24.78,"b":25.22},{"t":9.8,"a":24.76,"b":25.24},{"t":9.95,"a":24.78,"b":25.22},
{"t":0.6,"a":25.88,"b":26.1},{"t":1.5,"a":25.88,"b":26.12},{"t":2.8,"a":25.88,"b":26.1},{"t":4.0,"a":25.88,"b":26.12},{"t":5.2,"a":25.88,"b":26.1},{"t":6.3,"a":25.88,"b":26.12},{"t":7.3,"a":25.88,"b":26.1},{"t":8.3,"a":25.85,"b":26.15},{"t":9.6,"a":25.88,"b":26.12},{"t":9.85,"a":25.85,"b":26.15},
{"t":0.4,"a":26.88,"b":27.1},{"t":1.2,"a":26.88,"b":27.12},{"t":2.3,"a":26.88,"b":27.1},{"t":3.4,"a":26.88,"b":27.12},{"t":4.5,"a":26.88,"b":27.1},{"t":5.6,"a":26.88,"b":27.12},{"t":6.7,"a":26.88,"b":27.1},{"t":7.8,"a":26.88,"b":27.12},{"t":8.7,"a":26.88,"b":27.1},{"t":9.5,"a":26.88,"b":27.12},
{"t":0.53,"a":27.8,"b":28.22},{"t":1.4,"a":27.88,"b":28.12},{"t":2.6,"a":27.82,"b":28.2},{"t":3.5,"a":27.88,"b":28.12},{"t":4.6,"a":27.88,"b":28.1},{"t":5.5,"a":27.88,"b":28.12},{"t":6.3,"a":27.88,"b":28.1},{"t":7.1,"a":27.8,"b":28.22},{"t":8.3,"a":27.8,"b":28.2},{"t":9.0,"a":27.88,"b":28.12},{"t":9.6,"a":27.82,"b":28.2},{"t":9.95,"a":27.84,"b":28.18}
]
},
"layer": [
{"data": {"name": "env"}, "mark": {"type": "rect"},
 "encoding": {
  "x": {"field": "t0", "type": "quantitative", "scale": {"domain": [0, 10], "nice": false, "zero": false},
   "axis": {"title": "Time(s)", "values": [0,1,2,3,4,5,6,7,8,9,10], "format": "d", "domain": true, "domainColor": "#222", "domainWidth": 1.5, "ticks": false, "grid": false, "labelFont": "Liberation Sans", "labelFontSize": 15, "labelColor": "#333", "labelPadding": 10, "labelFlush": false, "titleFont": "Open Sans", "titleFontSize": 29, "titleFontWeight": "bold", "titleColor": "#000", "titleBaseline": "alphabetic", "titleAlign": "center", "titleX": 578, "titleY": 65}},
  "x2": {"field": "t1"},
  "y": {"field": "lo", "type": "quantitative", "scale": {"domain": [-0.92, 28.92], "reverse": true, "nice": false, "zero": false},
   "axis": {"title": "Depth (mm)", "values": [0,1,2,3,4,5,6,7,8,9,10,11,12,13,14,15,16,17,18,19,20,21,22,23,24,25,26,27,28], "labelExpr": "['-10.02','-9.04','-8.04','-7.07','-6.09','-5.01','-4.05','-3.54','-3.00','-2.52','-2.01','-1.52','-0.85','-0.51','0.01','0.53','1.02','1.55','2.02','2.52','3.10','3.52','4.05','4.59','5.07','5.52','6.05','6.52','7.01'][datum.value]", "domain": false, "ticks": false, "grid": false, "labelFont": "Liberation Sans", "labelFontSize": 14, "labelColor": "#333", "labelPadding": 5, "labelOverlap": false, "titleFont": "Open Sans", "titleFontSize": 29, "titleFontWeight": "bold", "titleColor": "#000", "titleAngle": 270, "titleAlign": "center", "titleBaseline": "alphabetic", "titleX": -67, "titleY": 334}},
  "y2": {"field": "hi"},
  "color": {"field": "lvl", "type": "quantitative", "scale": {"domain": [0, 50], "range": ["#ffffff", "#4a4a4a"]}, "legend": null}
 }},
{"data": {"name": "tracks"}, "mark": {"type": "rect", "color": "#000"},
 "encoding": {
  "x": {"field": "t0", "type": "quantitative", "scale": {"domain": [0, 10], "nice": false, "zero": false},
   "axis": {"title": "Time(s)", "values": [0,1,2,3,4,5,6,7,8,9,10], "format": "d", "domain": true, "domainColor": "#222", "domainWidth": 1.5, "ticks": false, "grid": false, "labelFont": "Liberation Sans", "labelFontSize": 15, "labelColor": "#333", "labelPadding": 10, "labelFlush": false, "titleFont": "Open Sans", "titleFontSize": 29, "titleFontWeight": "bold", "titleColor": "#000", "titleBaseline": "alphabetic", "titleAlign": "center", "titleX": 578, "titleY": 65}},
  "x2": {"field": "t1"},
  "y": {"field": "lo", "type": "quantitative", "scale": {"domain": [-0.92, 28.92], "reverse": true, "nice": false, "zero": false},
   "axis": {"title": "Depth (mm)", "values": [0,1,2,3,4,5,6,7,8,9,10,11,12,13,14,15,16,17,18,19,20,21,22,23,24,25,26,27,28], "labelExpr": "['-10.02','-9.04','-8.04','-7.07','-6.09','-5.01','-4.05','-3.54','-3.00','-2.52','-2.01','-1.52','-0.85','-0.51','0.01','0.53','1.02','1.55','2.02','2.52','3.10','3.52','4.05','4.59','5.07','5.52','6.05','6.52','7.01'][datum.value]", "domain": false, "ticks": false, "grid": false, "labelFont": "Liberation Sans", "labelFontSize": 14, "labelColor": "#333", "labelPadding": 5, "labelOverlap": false, "titleFont": "Open Sans", "titleFontSize": 29, "titleFontWeight": "bold", "titleColor": "#000", "titleAngle": 270, "titleAlign": "center", "titleBaseline": "alphabetic", "titleX": -67, "titleY": 334}},
  "y2": {"field": "hi"}
 }},
{"data": {"name": "spikes"}, "mark": {"type": "rule", "color": "#000", "strokeWidth": 1.6},
 "encoding": {
  "x": {"field": "t", "type": "quantitative", "scale": {"domain": [0, 10], "nice": false, "zero": false},
   "axis": {"title": "Time(s)", "values": [0,1,2,3,4,5,6,7,8,9,10], "format": "d", "domain": true, "domainColor": "#222", "domainWidth": 1.5, "ticks": false, "grid": false, "labelFont": "Liberation Sans", "labelFontSize": 15, "labelColor": "#333", "labelPadding": 10, "labelFlush": false, "titleFont": "Open Sans", "titleFontSize": 29, "titleFontWeight": "bold", "titleColor": "#000", "titleBaseline": "alphabetic", "titleAlign": "center", "titleX": 578, "titleY": 65}},
  "y": {"field": "a", "type": "quantitative", "scale": {"domain": [-0.92, 28.92], "reverse": true, "nice": false, "zero": false},
   "axis": {"title": "Depth (mm)", "values": [0,1,2,3,4,5,6,7,8,9,10,11,12,13,14,15,16,17,18,19,20,21,22,23,24,25,26,27,28], "labelExpr": "['-10.02','-9.04','-8.04','-7.07','-6.09','-5.01','-4.05','-3.54','-3.00','-2.52','-2.01','-1.52','-0.85','-0.51','0.01','0.53','1.02','1.55','2.02','2.52','3.10','3.52','4.05','4.59','5.07','5.52','6.05','6.52','7.01'][datum.value]", "domain": false, "ticks": false, "grid": false, "labelFont": "Liberation Sans", "labelFontSize": 14, "labelColor": "#333", "labelPadding": 5, "labelOverlap": false, "titleFont": "Open Sans", "titleFontSize": 29, "titleFontWeight": "bold", "titleColor": "#000", "titleAngle": 270, "titleAlign": "center", "titleBaseline": "alphabetic", "titleX": -67, "titleY": 334}},
  "y2": {"field": "b"}
 }},
{"data": {"name": "markers"}, "mark": {"type": "rule", "strokeWidth": 4},
 "encoding": {
  "y": {"field": "k", "type": "quantitative", "scale": {"domain": [-0.92, 28.92], "reverse": true, "nice": false, "zero": false},
   "axis": {"title": "Depth (mm)", "values": [0,1,2,3,4,5,6,7,8,9,10,11,12,13,14,15,16,17,18,19,20,21,22,23,24,25,26,27,28], "labelExpr": "['-10.02','-9.04','-8.04','-7.07','-6.09','-5.01','-4.05','-3.54','-3.00','-2.52','-2.01','-1.52','-0.85','-0.51','0.01','0.53','1.02','1.55','2.02','2.52','3.10','3.52','4.05','4.59','5.07','5.52','6.05','6.52','7.01'][datum.value]", "domain": false, "ticks": false, "grid": false, "labelFont": "Liberation Sans", "labelFontSize": 14, "labelColor": "#333", "labelPadding": 5, "labelOverlap": false, "titleFont": "Open Sans", "titleFontSize": 29, "titleFontWeight": "bold", "titleColor": "#000", "titleAngle": 270, "titleAlign": "center", "titleBaseline": "alphabetic", "titleX": -67, "titleY": 334}},
  "color": {"field": "m", "type": "nominal", "scale": {"domain": ["entry", "exit"], "range": ["#22dd22", "#ee1111"]}, "legend": null}
 }},
{"data": {"name": "edges"}, "mark": {"type": "rule", "color": "#444", "strokeWidth": 2},
 "encoding": {
  "y": {"field": "k", "type": "quantitative", "scale": {"domain": [-0.92, 28.92], "reverse": true, "nice": false, "zero": false},
   "axis": {"title": "Depth (mm)", "values": [0,1,2,3,4,5,6,7,8,9,10,11,12,13,14,15,16,17,18,19,20,21,22,23,24,25,26,27,28], "labelExpr": "['-10.02','-9.04','-8.04','-7.07','-6.09','-5.01','-4.05','-3.54','-3.00','-2.52','-2.01','-1.52','-0.85','-0.51','0.01','0.53','1.02','1.55','2.02','2.52','3.10','3.52','4.05','4.59','5.07','5.52','6.05','6.52','7.01'][datum.value]", "domain": false, "ticks": false, "grid": false, "labelFont": "Liberation Sans", "labelFontSize": 14, "labelColor": "#333", "labelPadding": 5, "labelOverlap": false, "titleFont": "Open Sans", "titleFontSize": 29, "titleFontWeight": "bold", "titleColor": "#000", "titleAngle": 270, "titleAlign": "center", "titleBaseline": "alphabetic", "titleX": -67, "titleY": 334}}
 }}
],
"resolve": {"scale": {"color": "independent"}}
}
